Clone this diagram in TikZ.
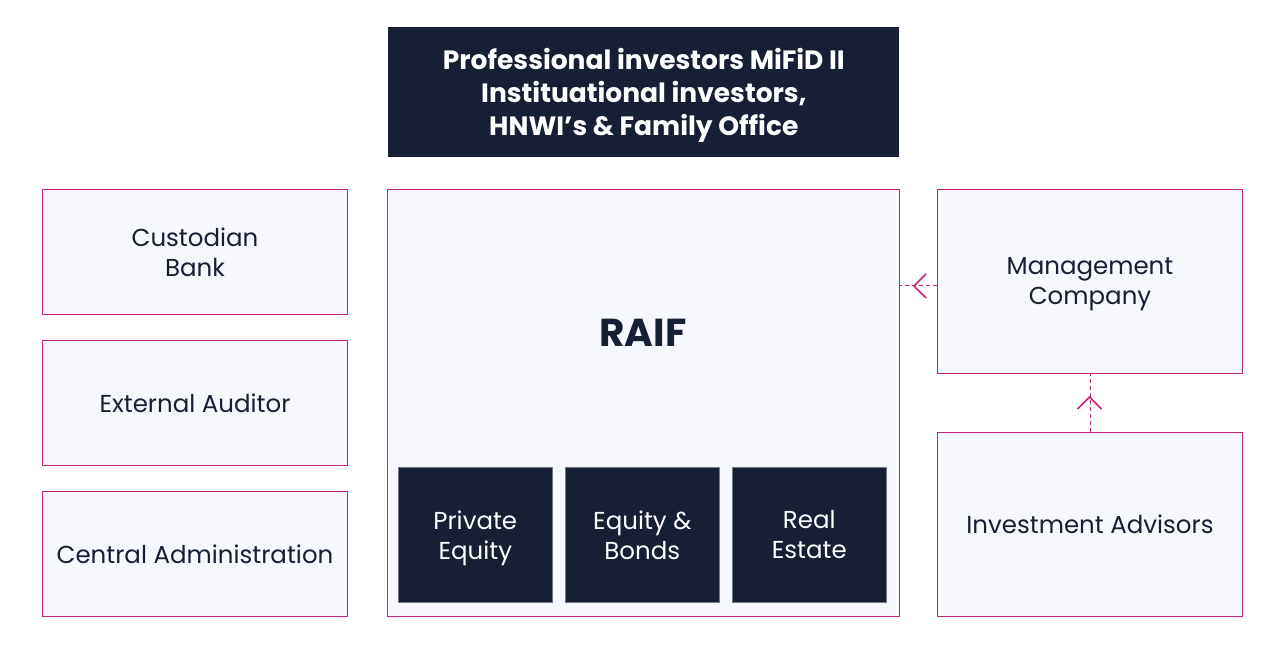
\documentclass[tikz,border=0pt]{standalone}
\usepackage{fontspec}
\setmainfont{Poppins}
\usetikzlibrary{arrows.meta,calc}
\definecolor{navy}{HTML}{161F33}
\definecolor{mag}{HTML}{C4267A}
\definecolor{pale}{HTML}{F7F8FD}
\tikzset{
  lbox/.style={draw=mag, line width=1pt, fill=pale, anchor=north west, inner sep=0pt, align=center, text depth=0pt, text=navy, font=\fontsize{24.5}{30}\selectfont},
  dbox/.style={fill=navy, draw=navy!60, line width=0.6pt, anchor=north west, inner sep=0pt, align=center, text depth=0pt, text=white, font=\fontsize{24.5}{30}\selectfont},
  dlink/.style={draw=mag, line width=1pt, dash pattern=on 4pt off 3pt},
  chev/.style={draw=mag, line width=1.6pt}
}
\begin{document}
\begin{tikzpicture}[x=1pt,y=-1pt]
\useasboundingbox (0,0) rectangle (1280,652);
\fill[white] (0,0) rectangle (1280,652);
\node[dbox, minimum width=511pt, minimum height=130pt, font=\bfseries\fontsize{26.5}{33}\selectfont, draw=none] (top) at (388,27) {Professional investors MiFiD II\\Instituational investors,\\HNWI’s \& Family Office};
\node[lbox, minimum width=305pt, minimum height=125pt] (cust) at (42,189) {Custodian\\Bank};
\node[lbox, minimum width=305pt, minimum height=125pt] (aud) at (42,340) {External Auditor};
\node[lbox, minimum width=305pt, minimum height=125pt] (adm) at (42,491) {Central Administration};
\node[lbox, minimum width=512pt, minimum height=427pt] (raif) at (387,189) {};
\node[text=navy, font=\bfseries\fontsize{39}{42}\selectfont] (raift) at (643,333) {RAIF};
\node[dbox, minimum width=154pt, minimum height=135pt] (pe) at (398,467) {Private\\Equity};
\node[dbox, minimum width=154pt, minimum height=135pt] (eb) at (565,467) {Equity \&\\Bonds};
\node[dbox, minimum width=154pt, minimum height=135pt] (re) at (732,467) {Real\\Estate};
\node[lbox, minimum width=305pt, minimum height=184pt] (mc) at (937,189) {Management\\Company};
\node[lbox, minimum width=305pt, minimum height=184pt] (ia) at (937,432) {Investment Advisors};
% connectors
\path (raif.east |- 0,286) coordinate (r1);
\path (mc.west |- 0,286) coordinate (m1);
\draw[dlink] (m1) -- (r1);
\coordinate (t1) at (914,286);
\draw[chev] ($(t1)+(12,-12)$) -- (t1) -- ($(t1)+(12,12)$);
\draw[dlink] (ia.north) -- (mc.south);
\coordinate (t2) at (1089.5,397);
\draw[chev] ($(t2)+(-12,12)$) -- (t2) -- ($(t2)+(12,12)$);
\end{tikzpicture}
\end{document}
